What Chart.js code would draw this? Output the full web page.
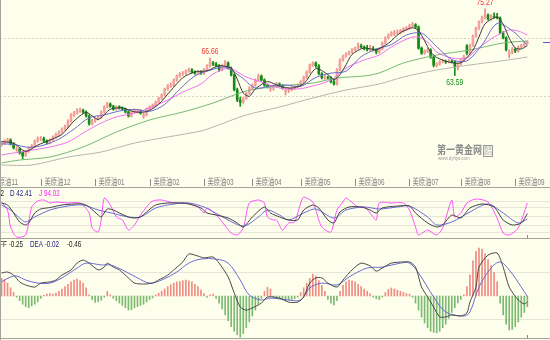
<!DOCTYPE html>
<html lang="zh">
<head>
<meta charset="utf-8">
<title>美原油 日K</title>
<script src="https://cdn.jsdelivr.net/npm/chart.js@4.4.1/dist/chart.umd.min.js"></script>
<style>
  html, body { margin: 0; padding: 0; background: #fefeec; }
  #board { position: relative; width: 550px; height: 340px; background: #fefeec; overflow: hidden; }
  #board canvas { position: absolute; left: 0; }
  .rule { position: absolute; background: #a4a49c; }
</style>
</head>
<body>
<div id="board">
  <canvas id="priceChart" width="550" height="187" style="top:0"></canvas>
  <div class="rule" style="left:0;top:187px;width:550px;height:1px"></div>
  <canvas id="kdjChart" width="550" height="50" style="top:188px"></canvas>
  <div class="rule" style="left:0;top:238px;width:550px;height:1px"></div>
  <canvas id="macdChart" width="550" height="99" style="top:239px"></canvas>
  <div class="rule" style="left:0;top:338px;width:550px;height:1px"></div>
  <div class="rule" style="left:0;top:0;width:1px;height:340px"></div>
</div>
<script>
// --- 1. DAILY CANDLES ---
const openP = [
  51.4, 51.7, 52.0, 52.3, 51.6, 50.6, 50.7, 50.1, 49.6, 50.3,
  50.9, 51.2, 52.1, 52.5, 52.6, 52.1, 51.8, 52.3, 52.8, 53.3,
  53.7, 54.2, 54.6, 55.6, 56.6, 57.0, 57.3, 57.5, 57.2, 56.5,
  55.1, 55.6, 56.0, 56.3, 57.2, 58.1, 58.6, 58.2, 57.7, 58.1,
  57.9, 57.7, 57.2, 56.5, 57.2, 57.25, 57.4, 56.4, 56.7, 57.7,
  58.1, 58.4, 58.9, 59.6, 60.2, 61.2, 61.8, 61.9, 62.8, 63.5,
  63.9, 64.0, 64.4, 64.6, 64.2, 64.0, 64.2, 64.0, 64.6, 65.3,
  65.8, 65.6, 65.3, 64.6, 65.3, 65.8, 64.9, 63.7, 61.1, 59.3,
  58.9, 59.6, 60.5, 61.4, 61.9, 62.8, 63.5, 62.8, 61.9, 61.3,
  61.4, 61.8, 62.1, 61.8, 60.8, 61.1, 61.2, 61.4, 61.6, 61.9,
  62.5, 63.3, 64.2, 65.4, 65.8, 65.3, 63.9, 63.1, 63.3, 63.2,
  62.5, 62.1, 64.6, 66.3, 67.0, 67.4, 67.7, 68.1, 68.4, 68.8,
  68.6, 68.3, 68.1, 68.3, 68.1, 67.7, 68.3, 69.3, 70.2, 70.7,
  70.9, 71.1, 71.2, 71.4, 71.8, 71.9, 72.3, 72.5, 72.1, 68.4,
  67.5, 67.9, 68.1, 66.8, 65.4, 65.6, 66.0, 66.1, 66.0, 66.1,
  66.0, 65.1, 65.6, 66.3, 68.8, 67.5, 68.9, 70.5, 71.9, 73.0,
  73.7, 74.2, 73.5, 74.0, 73.9, 73.7, 71.1, 70.2, 67.3, 67.7,
  68.2, 67.9, 68.6, 68.9, 69.3
];
const highP = [
  52.0, 52.3, 52.6, 52.5, 51.8, 51.1, 50.9, 50.3, 50.5, 51.1,
  51.5, 52.3, 52.8, 52.9, 52.8, 52.3, 52.5, 53.0, 53.5, 53.9,
  54.4, 54.9, 55.8, 56.9, 57.3, 57.8, 57.9, 57.7, 57.4, 56.7,
  55.9, 56.2, 56.5, 57.4, 58.3, 58.9, 58.8, 58.4, 58.3, 58.3,
  58.1, 57.9, 57.4, 57.4, 57.7, 57.7, 57.6, 57.0, 57.9, 58.3,
  58.6, 59.1, 59.8, 60.4, 61.4, 62.0, 62.3, 63.0, 63.7, 64.1,
  64.3, 64.6, 64.9, 64.8, 64.4, 64.5, 64.4, 64.8, 65.5, 66.66,
  66.1, 65.9, 65.5, 65.5, 66.2, 66.0, 65.1, 63.9, 61.4, 59.8,
  59.8, 60.7, 61.6, 62.1, 63.0, 63.8, 63.7, 63.0, 62.1, 61.9,
  62.0, 62.4, 62.3, 62.0, 61.4, 61.5, 61.7, 61.8, 62.1, 62.7,
  63.5, 64.4, 65.6, 66.0, 66.0, 65.5, 64.1, 63.6, 63.5, 63.4,
  62.8, 64.8, 66.5, 67.2, 67.6, 67.9, 68.3, 68.6, 69.3, 69.1,
  68.8, 68.9, 68.9, 68.7, 68.3, 68.5, 69.5, 70.4, 70.9, 71.3,
  71.5, 71.6, 71.7, 72.0, 72.2, 72.6, 72.9, 72.7, 72.3, 68.6,
  68.1, 68.4, 68.3, 67.0, 65.8, 66.2, 66.4, 66.3, 66.4, 66.3,
  66.2, 65.8, 66.5, 67.2, 69.0, 69.1, 70.7, 72.1, 73.2, 74.0,
  75.27, 74.4, 74.3, 74.6, 74.5, 73.9, 71.3, 70.4, 68.1, 68.5,
  68.4, 68.8, 69.1, 69.5, 69.7
];
const lowP = [
  51.2, 51.5, 51.8, 51.4, 50.7, 50.3, 49.8, 49.0, 49.4, 50.1,
  50.7, 51.0, 51.9, 52.2, 51.9, 51.6, 51.6, 52.1, 52.6, 53.0,
  53.5, 54.0, 54.4, 55.4, 56.4, 56.8, 57.1, 56.9, 56.3, 54.9,
  54.9, 55.4, 55.8, 56.1, 57.0, 57.9, 58.0, 57.5, 57.5, 57.7,
  57.5, 57.0, 56.3, 56.3, 57.0, 57.0, 56.8, 56.1, 56.5, 57.5,
  57.9, 58.2, 58.7, 59.4, 60.0, 61.0, 61.5, 61.7, 62.6, 63.3,
  63.6, 63.8, 64.2, 64.0, 63.8, 63.8, 63.8, 63.8, 64.4, 65.1,
  65.3, 65.1, 64.3, 64.4, 65.1, 64.7, 63.5, 60.9, 59.0, 58.2,
  58.7, 59.4, 60.3, 61.2, 61.7, 62.6, 62.6, 61.7, 61.4, 60.8,
  61.0, 61.6, 61.6, 61.2, 60.2, 60.6, 60.9, 61.1, 61.4, 61.7,
  62.3, 63.1, 64.0, 65.2, 65.0, 63.7, 63.0, 62.9, 62.9, 62.3,
  61.9, 61.9, 64.4, 66.1, 66.8, 67.2, 67.5, 67.9, 68.2, 68.4,
  68.1, 67.9, 67.9, 67.9, 67.4, 67.5, 68.1, 69.1, 70.0, 70.5,
  70.6, 70.8, 70.9, 71.2, 71.5, 71.7, 72.1, 71.9, 68.2, 67.3,
  67.3, 67.6, 66.6, 65.1, 65.1, 65.4, 65.8, 65.7, 65.8, 65.8,
  63.59, 64.6, 65.4, 66.1, 67.2, 67.3, 68.7, 70.3, 71.7, 72.8,
  73.5, 73.3, 73.3, 73.6, 73.5, 70.9, 70.0, 67.9, 66.7, 67.4,
  67.6, 67.7, 68.4, 68.7, 69.1
];
const closeP = [
  51.75, 52.1, 52.3, 51.6, 50.9, 50.7, 50.0, 49.5, 50.3, 50.9,
  51.2, 52.1, 52.5, 52.6, 52.1, 51.8, 52.3, 52.8, 53.3, 53.7,
  54.2, 54.6, 55.6, 56.7, 57.0, 57.4, 57.5, 57.2, 56.5, 55.1,
  55.6, 56.0, 56.3, 57.2, 58.1, 58.6, 58.2, 57.7, 58.1, 57.9,
  57.7, 57.2, 56.5, 57.2, 57.5, 57.4, 57.0, 56.7, 57.7, 58.1,
  58.4, 58.9, 59.6, 60.2, 61.2, 61.8, 61.9, 62.8, 63.5, 63.9,
  64.0, 64.4, 64.6, 64.2, 64.0, 64.2, 64.0, 64.6, 65.3, 65.8,
  65.6, 65.3, 64.6, 65.3, 65.8, 64.9, 63.7, 61.1, 59.3, 58.9,
  59.6, 60.5, 61.4, 61.9, 62.8, 63.5, 62.8, 61.9, 61.6, 61.4,
  61.8, 62.1, 61.8, 61.4, 61.1, 61.2, 61.4, 61.6, 61.9, 62.5,
  63.3, 64.2, 65.4, 65.8, 65.3, 63.9, 63.2, 63.3, 63.2, 62.5,
  62.1, 64.6, 66.3, 67.0, 67.4, 67.7, 68.1, 68.4, 68.8, 68.6,
  68.3, 68.1, 68.3, 68.1, 67.7, 68.3, 69.3, 70.2, 70.7, 71.1,
  71.1, 71.2, 71.4, 71.8, 71.9, 72.3, 72.5, 72.1, 68.4, 67.5,
  67.9, 68.1, 66.8, 65.4, 65.6, 66.0, 66.1, 66.0, 66.1, 66.0,
  65.1, 65.6, 66.3, 67.0, 67.5, 68.9, 70.5, 71.9, 73.0, 73.7,
  74.2, 73.5, 74.0, 73.9, 73.7, 71.1, 70.2, 68.1, 67.7, 68.2,
  67.9, 68.6, 68.9, 69.3, 69.5
];

// candles that carry a price flag
const highMarks = [69, 160];
const lowMarks = [150];

// --- 2. MOVING AVERAGES  [candle index, price] ---
const ma5 = [[0,52.0],[4,51.73],[8,50.28],[12,51.4],[16,52.26],[20,53.26],[24,55.62],[28,57.12],[32,55.9],[36,57.68],[40,57.92],[44,57.22],[48,57.26],[52,58.54],[56,60.94],[60,63.22],[64,64.24],[68,64.42],[72,65.32],[76,64.86],[78,62.96],[80,60.52],[82,59.94],[84,61.24],[88,62.52],[92,61.74],[96,61.38],[100,62.14],[104,64.8],[108,63.78],[110,62.86],[112,63.74],[114,65.48],[116,67.3],[120,68.44],[124,68.1],[128,69.24],[132,71.1],[136,71.98],[138,71.44],[140,69.68],[142,67.74],[144,66.76],[148,65.96],[152,65.82],[156,68.04],[158,70.36],[160,72.66],[164,73.86],[166,72.58],[168,70.16],[170,68.42],[172,68.26],[174,68.84]];
const ma10 = [[0,51.6],[4,51.5],[9,51.0],[14,51.39],[19,52.44],[24,54.2],[29,56.18],[34,56.69],[39,57.37],[44,57.66],[49,57.3],[54,58.52],[59,61.22],[64,63.51],[69,64.51],[74,65.05],[79,63.45],[84,61.41],[89,61.74],[94,61.94],[99,61.68],[104,63.26],[109,64.01],[114,64.35],[119,66.9],[124,68.21],[129,69.01],[134,70.7],[139,71.02],[144,68.66],[149,66.4],[154,66.17],[159,68.95],[164,72.73],[169,71.46],[174,68.95]];
const ma20 = [[0,49.65],[6,50.18],[16,51.05],[22,51.93],[27,53.51],[33,55.26],[38,56.32],[44,57.02],[49,57.89],[55,59.3],[60,60.7],[66,62.11],[70,63.86],[75,64.91],[77,64.56],[81,63.33],[86,62.46],[92,61.4],[98,61.23],[103,61.75],[109,62.81],[114,64.91],[120,66.32],[125,67.19],[129,68.6],[135,70.18],[138,70.35],[141,69.47],[144,67.72],[149,66.67],[154,66.67],[157,68.07],[163,70.35],[168,71.58],[171,71.4],[174,70.7]];
const ma60 = [[0,48.25],[6,48.77],[16,49.3],[27,51.05],[38,53.68],[49,55.79],[60,57.19],[70,58.77],[81,60.88],[92,61.75],[103,62.28],[111,63.16],[120,63.51],[125,64.04],[133,65.79],[144,67.19],[155,68.07],[166,69.3],[174,69.65]];
const ma120 = [[0,47.89],[10,47.89],[22,49.3],[33,50.18],[44,51.75],[55,52.81],[66,53.86],[70,54.56],[81,56.67],[92,58.07],[103,59.65],[114,61.05],[125,62.11],[133,63.33],[144,64.56],[155,65.44],[166,66.2],[174,66.84]];

// --- 3. KDJ ---
const kLine = [[0,94.0],[2,87.6],[4,61.8],[6,32.7],[8,23.1],[9,29.5],[11,61.8],[13,74.7],[15,77.9],[17,81.1],[20,87.6],[24,90.8],[27,90.8],[29,81.1],[32,55.3],[33,48.9],[35,74.7],[37,71.4],[39,61.8],[42,48.9],[44,45.6],[46,48.9],[48,65.0],[51,87.6],[55,94.0],[59,94.0],[62,90.8],[66,77.9],[68,61.8],[71,55.3],[75,45.6],[78,29.5],[80,16.6],[83,48.9],[87,81.1],[89,61.8],[92,48.9],[95,39.2],[98,39.2],[100,71.4],[103,87.6],[105,77.9],[108,39.2],[110,29.5],[112,65.0],[115,81.1],[119,81.1],[122,71.4],[124,61.8],[126,77.9],[131,84.3],[135,84.3],[137,61.8],[141,29.5],[144,16.6],[146,23.1],[149,55.3],[152,45.6],[155,77.9],[159,90.8],[163,81.1],[166,39.2],[169,23.1],[172,29.5],[174,59.62]];
const dLine = [[0,87.6],[3,71.4],[6,45.6],[8,32.7],[11,48.9],[16,71.4],[22,84.3],[27,87.6],[32,71.4],[35,65.0],[42,48.9],[46,48.9],[51,77.9],[57,90.8],[62,94.0],[67,81.1],[72,55.3],[80,19.8],[85,48.9],[88,71.4],[92,55.3],[95,39.2],[100,61.8],[104,74.7],[110,45.6],[114,71.4],[120,81.1],[125,74.7],[131,81.1],[135,84.3],[141,48.9],[144,23.1],[149,32.7],[155,65.0],[161,90.8],[166,61.8],[171,29.5],[174,42.41]];
const jLine = [[0,97.3],[2,71.4],[3,16.6],[5,-15.6],[8,-9.2],[10,81.1],[12,100.5],[14,103.7],[16,94.0],[18,97.3],[22,94.0],[26,94.0],[29,61.8],[30,13.4],[32,0.5],[33,39.2],[34,110.2],[36,87.6],[38,48.9],[40,39.2],[42,6.9],[44,23.1],[46,55.3],[48,81.1],[50,100.5],[53,103.7],[57,94.0],[61,94.0],[65,81.1],[67,61.8],[68,77.9],[70,65.0],[72,45.6],[76,-2.8],[78,-9.2],[80,13.4],[82,94.0],[85,103.7],[87,94.0],[88,48.9],[90,39.2],[91,39.2],[93,6.9],[95,29.5],[97,32.7],[99,94.0],[100,113.4],[103,97.3],[104,71.4],[106,16.6],[109,0.5],[111,71.4],[113,97.3],[114,110.2],[118,81.1],[120,81.1],[122,61.8],[124,39.2],[125,94.0],[129,94.0],[133,94.0],[135,71.4],[137,16.6],[138,-9.2],[141,6.9],[144,-9.2],[146,13.4],[149,103.7],[150,48.9],[152,61.8],[154,94.0],[157,106.9],[161,97.3],[164,45.6],[166,-2.8],[168,-9.2],[171,13.4],[174,94.02]];

// --- 4. MACD ---
const diffLine = [[0,0.98],[2,1.02],[4,0.89],[6,0.6],[8,0.47],[11,0.38],[13,0.55],[16,0.6],[18,0.68],[20,0.89],[23,1.11],[25,1.4],[27,1.53],[29,1.4],[32,1.11],[34,1.23],[35,1.4],[37,1.23],[39,1.11],[42,0.77],[44,0.55],[47,0.51],[50,0.55],[52,0.68],[55,0.89],[57,1.11],[60,1.45],[62,1.79],[65,1.7],[67,1.62],[70,1.66],[72,1.4],[75,0.81],[77,0.13],[79,-0.47],[81,-0.6],[83,-0.51],[86,-0.3],[88,-0.04],[92,-0.09],[95,-0.26],[98,-0.26],[100,-0.04],[102,0.55],[104,0.77],[106,0.77],[108,0.55],[111,0.38],[113,0.68],[115,0.98],[117,1.23],[119,1.4],[122,1.28],[124,1.06],[126,1.19],[129,1.4],[133,1.45],[135,1.45],[137,1.23],[139,0.38],[141,-0.04],[143,-0.47],[145,-0.89],[147,-0.89],[149,-0.81],[152,-0.85],[154,-0.72],[155,-0.26],[157,0.38],[158,1.23],[161,1.74],[164,1.83],[166,1.23],[168,0.38],[171,-0.17],[173,-0.34],[174,-0.25]];
const deaLine = [[0,0.6],[3,0.81],[5,0.85],[8,0.68],[12,0.55],[16,0.55],[20,0.77],[25,1.19],[28,1.4],[33,1.32],[36,1.32],[40,1.11],[45,0.77],[49,0.55],[53,0.68],[58,1.02],[62,1.4],[66,1.57],[71,1.57],[75,1.4],[79,0.68],[82,0.04],[86,-0.17],[89,-0.09],[95,-0.17],[99,-0.17],[102,0.34],[106,0.55],[111,0.47],[115,0.81],[121,1.19],[126,1.23],[132,1.4],[135,1.4],[138,0.98],[143,-0.04],[147,-0.68],[153,-0.85],[155,-0.68],[158,0.38],[162,1.19],[165,1.45],[168,1.11],[172,0.38],[174,-0.02]];
const macdBars = [
  0.75, 0.7, 0.55, 0.35, 0.15, -0.05, -0.2, -0.35, -0.45, -0.5,
  -0.42, -0.35, -0.25, -0.1, 0.03, 0.08, 0.1, 0.08, 0.12, 0.2,
  0.3, 0.4, 0.5, 0.6, 0.68, 0.72, 0.65, 0.55, 0.35, 0.05,
  -0.15, -0.27, -0.25, -0.18, -0.05, 0.2, 0.05, -0.1, -0.2, -0.3,
  -0.4, -0.5, -0.6, -0.58, -0.5, -0.45, -0.4, -0.35, -0.25, -0.15,
  -0.08, 0.05, 0.12, 0.2, 0.3, 0.4, 0.48, 0.55, 0.6, 0.62,
  0.65, 0.68, 0.65, 0.6, 0.5, 0.4, 0.25, 0.1, -0.05, 0.05,
  0.08, -0.1, -0.3, -0.55, -0.8, -1.05, -1.3, -1.5, -1.65, -1.75,
  -1.6, -1.35, -1.1, -0.85, -0.6, -0.35, -0.1, 0.2, 0.38, 0.3,
  -0.05, -0.1, -0.12, -0.15, -0.2, -0.18, -0.15, -0.12, -0.05, 0.15,
  0.35, 0.55, 0.75, 0.93, 0.85, 0.65, 0.45, 0.2, -0.15, -0.3,
  -0.38, -0.2, 0.2, 0.45, 0.6, 0.68, 0.65, 0.6, 0.5, 0.4,
  0.3, 0.2, 0.1, -0.05, -0.12, -0.15, -0.05, 0.15, 0.28, 0.34,
  0.3, 0.25, 0.2, 0.15, 0.1, 0.08, -0.05, -0.3, -0.6, -0.9,
  -1.15, -1.35, -1.5, -1.55, -1.57, -1.5, -1.35, -1.2, -0.95, -0.7,
  -0.5, -0.3, -0.15, 0.05, 0.4, 0.9, 1.5, 1.9, 2.04, 2.0,
  1.8, 1.55, 1.3, 1.0, 0.6, -0.3, -0.8, -1.2, -1.45, -1.42,
  -1.3, -1.1, -0.9, -0.7, -0.46
];

// --- 5. DATE AXIS ---
const monthTicks = [-4, 13, 31, 49, 67, 83, 99, 117, 135, 152, 170];
const monthLabels = ['美原油11', '美原油12', '美原油01', '美原油02', '美原油03', '美原油04',
                     '美原油05', '美原油06', '美原油07', '美原油08', '美原油09'];

// --- 6. HELPERS ---
const X_MIN = -0.5, X_MAX = 181.5;
const FONT = '"Liberation Sans", "Noto Sans CJK SC", sans-serif';
const last = rows => rows[rows.length - 1][1];
const toXY = rows => rows.map(([x, y]) => ({ x, y }));

// narrow text, the terminal font is squeezed horizontally
function squeezeText(ctx, text, x, y, color, opt = {}) {
    ctx.save();
    ctx.font = (opt.weight || '') + ' ' + (opt.size || 9) + 'px ' + FONT;
    ctx.fillStyle = color;
    ctx.textAlign = opt.align || 'left';
    ctx.textBaseline = opt.baseline || 'alphabetic';
    ctx.translate(x, y);
    ctx.scale(opt.sx || 0.7, 1);
    ctx.fillText(text, 0, 0);
    ctx.restore();
}

function lineSet(rows, color, tension = 0.3) {
    return {
        type: 'line', data: toXY(rows), borderColor: color, borderWidth: 1,
        pointRadius: 0, tension, fill: false, order: 0
    };
}

function panelOptions(yMin, yMax, gridValues, gridColor, dash, padBottom = 0) {
    return {
        responsive: false,
        animation: false,
        events: [],
        devicePixelRatio: 1,
        layout: { padding: { left: 0, right: 0, top: 0, bottom: padBottom } },
        plugins: { legend: { display: false }, tooltip: { enabled: false } },
        scales: {
            x: { type: 'linear', min: X_MIN, max: X_MAX, offset: false, display: false },
            y: {
                type: 'linear', min: yMin, max: yMax, position: 'left',
                afterBuildTicks: s => { s.ticks = gridValues.map(v => ({ value: v })); },
                afterFit: s => { s.width = 0; },
                ticks: { display: false },
                border: { display: false, dash },
                grid: { color: gridColor, lineWidth: 1, drawTicks: false }
            }
        }
    };
}

// --- 7. PLUGINS ---
const watermark = {
    id: 'watermark',
    beforeDatasetsDraw(chart) {
        const ctx = chart.ctx;
        squeezeText(ctx, '第一黄金网', 437, 154, '#8c8c8c', { size: 11, weight: 'bold', sx: 0.82 });
        squeezeText(ctx, 'www.dyhjw.com', 438, 160, '#a0a0a0', { size: 5, sx: 0.9 });
        ctx.save();
        ctx.strokeStyle = '#9a9a9a';
        ctx.strokeRect(483.5, 145.5, 9, 11);
        ctx.restore();
        squeezeText(ctx, '黄金', 488, 150, '#9a9a9a', { size: 4, align: 'center', sx: 1 });
        squeezeText(ctx, '资讯', 488, 155, '#9a9a9a', { size: 4, align: 'center', sx: 1 });
    }
};

const priceMarks = {
    id: 'priceMarks',
    afterDatasetsDraw(chart) {
        const { ctx, scales: { x, y } } = chart;
        highMarks.forEach(i => {
            squeezeText(ctx, highP[i].toFixed(2), x.getPixelForValue(i), y.getPixelForValue(highP[i]) - 2,
                '#f03030', { align: 'center', baseline: 'bottom', sx: 0.75 });
        });
        lowMarks.forEach(i => {
            squeezeText(ctx, lowP[i].toFixed(2), x.getPixelForValue(i), y.getPixelForValue(lowP[i]) + 2,
                '#159015', { align: 'center', baseline: 'top', sx: 0.75 });
        });
        // last price pointer at the right edge
        const yy = Math.round(y.getPixelForValue(closeP[closeP.length - 1])) + 0.5;
        ctx.save();
        ctx.strokeStyle = '#5a5ad0';
        ctx.beginPath();
        ctx.moveTo(x.getPixelForValue(179.2), yy);
        ctx.lineTo(chart.chartArea.right, yy);
        ctx.stroke();
        ctx.restore();
    }
};

const monthAxis = {
    id: 'monthAxis',
    afterDraw(chart) {
        const { ctx, scales: { x } } = chart;
        const base = chart.chartArea.bottom;
        ctx.save();
        ctx.strokeStyle = '#8a8a8a';
        monthTicks.forEach((t, k) => {
            const px = Math.round(x.getPixelForValue(t)) + 0.5;
            ctx.beginPath();
            ctx.moveTo(px, base + 7);
            ctx.lineTo(px, base + 14);
            ctx.stroke();
            squeezeText(ctx, monthLabels[k], px + 3, base + 13, '#808080');
        });
        ctx.restore();
    }
};

function headerPlugin(id, items) {
    return {
        id,
        afterDraw(chart) {
            items.forEach(it => squeezeText(chart.ctx, it.text, it.x, 8, it.color, { align: it.align }));
        }
    };
}

const lastTick = {
    id: 'lastTick',
    afterDraw(chart) {
        const { ctx, scales: { x }, chartArea } = chart;
        ctx.save();
        ctx.fillStyle = '#8a8a8a';
        ctx.fillRect(Math.round(x.getPixelForValue(closeP.length - 1)), chartArea.bottom - 3, 1, 3);
        ctx.restore();
    }
};

// --- 8. CHARTS ---
const isUp = closeP.map((c, i) => c >= openP[i]);

new Chart(document.getElementById('priceChart'), {
    type: 'bar',
    data: {
        datasets: [
            lineSet(ma5, '#3a3a3a', 0.25),
            lineSet(ma10, '#6a6ad4'),
            lineSet(ma20, '#f070f0'),
            lineSet(ma60, '#76b876'),
            lineSet(ma120, '#b6b6b0'),
            {
                type: 'bar', grouped: false, order: 1, barThickness: 2,
                data: closeP.map((c, i) => ({ x: i, y: [openP[i], c] })),
                backgroundColor: isUp.map(u => u ? '#f4a2a0' : '#168c16')
            },
            {
                type: 'bar', grouped: false, order: 2, barThickness: 1,
                data: closeP.map((c, i) => ({ x: i, y: [lowP[i], highP[i]] })),
                backgroundColor: isUp.map(u => u ? '#ee8884' : '#168c16')
            }
        ]
    },
    options: panelOptions(46.67, 76.84, [60, 70], '#d4d4c0', [2, 2], 15),
    plugins: [watermark, priceMarks, monthAxis]
});

new Chart(document.getElementById('kdjChart'), {
    type: 'line',
    data: {
        datasets: [
            lineSet(kLine, '#404040', 0.25),
            lineSet(dLine, '#6a6ad4', 0.3),
            lineSet(jLine, '#ff50ff', 0.25)
        ]
    },
    options: panelOptions(-18.88, 142.41, [0, 20, 50, 80, 100], '#e6e6d6', []),
    plugins: [headerPlugin('kdjHead', [
        { text: 'K ' + last(kLine).toFixed(2), x: 4, color: '#202020', align: 'right' },
        { text: 'D ' + last(dLine).toFixed(2), x: 10, color: '#1c1c80' },
        { text: 'J ' + last(jLine).toFixed(2), x: 39, color: '#ff20ff' }
    ]), lastTick]
});

new Chart(document.getElementById('macdChart'), {
    type: 'bar',
    data: {
        datasets: [
            lineSet(diffLine, '#484848', 0.25),
            lineSet(deaLine, '#6a6ad4', 0.35),
            {
                type: 'bar', grouped: false, order: 1, barThickness: 1,
                data: macdBars.map((v, i) => ({ x: i, y: v })),
                backgroundColor: macdBars.map(v => v >= 0 ? '#f08c84' : '#7cba72')
            }
        ]
    },
    options: panelOptions(-1.787, 2.426, [-1, 1], '#e6e6d6', []),
    plugins: [headerPlugin('macdHead', [
        { text: 'DIFF ' + last(diffLine).toFixed(2), x: 23, color: '#202020', align: 'right' },
        { text: 'DEA ' + last(deaLine).toFixed(2), x: 30, color: '#1c1c80' },
        { text: macdBars[macdBars.length - 1].toFixed(2), x: 67, color: '#202020' }
    ]), lastTick]
});
</script>
</body>
</html>
